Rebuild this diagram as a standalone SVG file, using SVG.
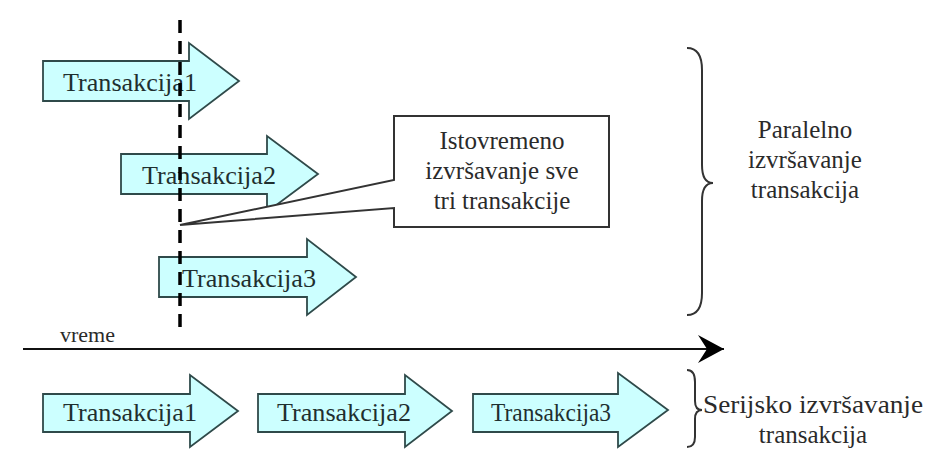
<svg xmlns="http://www.w3.org/2000/svg" width="926" height="449" viewBox="0 0 926 449">
<style>
.arr{fill:#ccffff;stroke:#2f4a4a;stroke-width:1.8;stroke-linejoin:miter}
.t{font-family:"Liberation Serif","Times New Roman",serif;font-size:25px;fill:#1f2f2f}
.lbl{font-family:"Liberation Serif","Times New Roman",serif;font-size:25px;fill:#2a2a2a}
.sm{font-family:"Liberation Serif","Times New Roman",serif;font-size:22px;fill:#2a2a2a}
.brace{fill:none;stroke:#333;stroke-width:2}
</style>
<defs>
<marker id="ah" markerWidth="28" markerHeight="30" refX="26" refY="15" orient="auto" markerUnits="userSpaceOnUse">
<path d="M0,1 L26,15 L0,29 L9,15 Z" fill="#000"/>
</marker>
</defs>
<rect width="926" height="449" fill="#fff"/>

<g id="par-t1">
<path class="arr" d="M43,61 H189 V43 L239,81 L189,119 V101 H43 Z"/>
<text class="t" x="63" y="91" textLength="134" lengthAdjust="spacingAndGlyphs">Transakcija1</text>
</g>
<g id="par-t2">
<path class="arr" d="M121,154 H267 V136 L318,174 L267,212 V194 H121 Z"/>
<text class="t" x="142" y="184" textLength="134" lengthAdjust="spacingAndGlyphs">Transakcija2</text>
</g>
<g id="par-t3">
<path class="arr" d="M159,257 H307 V239 L356,277 L307,315 V297 H159 Z"/>
<text class="t" x="182" y="287" textLength="134" lengthAdjust="spacingAndGlyphs">Transakcija3</text>
</g>

<g id="callout">
<path d="M394,116 H609 V227 H394 V208 L180,225 L394,180 Z" fill="#fff" stroke="#333" stroke-width="2"/>
<text class="lbl" x="502" y="149" text-anchor="middle">Istovremeno</text>
<text class="lbl" x="502" y="179" text-anchor="middle">izvršavanje sve</text>
<text class="lbl" x="502" y="209" text-anchor="middle">tri transakcije</text>
</g>

<g id="ser-t1">
<path class="arr" d="M43,394 H190 V375 L238,411 L190,447 V432 H43 Z"/>
<text class="t" x="63" y="421" textLength="134" lengthAdjust="spacingAndGlyphs">Transakcija1</text>
</g>
<g id="ser-t2">
<path class="arr" d="M258,394 H405 V375 L452,411 L405,447 V432 H258 Z"/>
<text class="t" x="277" y="421" textLength="134" lengthAdjust="spacingAndGlyphs">Transakcija2</text>
</g>
<g id="ser-t3">
<path class="arr" d="M473,394 H618 V373 L668,410 L618,447 V432 H473 Z"/>
<text class="t" x="491" y="421" textLength="120" lengthAdjust="spacingAndGlyphs">Transakcija3</text>
</g>

<g id="connectors">
<line x1="180" y1="20" x2="180" y2="330" stroke="#000" stroke-width="3.5" stroke-dasharray="13 8"/>
<line x1="23" y1="349" x2="724" y2="349" stroke="#111" stroke-width="2.2" marker-end="url(#ah)"/>
<path class="brace" d="M687,48 Q702,48 702,70 V165 Q702,183 713,183 Q702,183 702,201 V293 Q702,315 687,315"/>
<path class="brace" d="M687,370 Q695,370 695,382 V401 Q695,410 702,410 Q695,410 695,419 V437 Q695,447 687,447"/>
</g>

<g id="label-time">
<text class="sm" x="60" y="342">vreme</text>
</g>
<g id="label-par">
<text class="lbl" x="805" y="138" text-anchor="middle">Paralelno</text>
<text class="lbl" x="805" y="168" text-anchor="middle">izvršavanje</text>
<text class="lbl" x="805" y="198" text-anchor="middle">transakcija</text>
</g>
<g id="label-ser">
<text class="lbl" x="703" y="413" textLength="220" lengthAdjust="spacingAndGlyphs">Serijsko izvršavanje</text>
<text class="lbl" x="813" y="443" text-anchor="middle">transakcija</text>
</g>
</svg>
